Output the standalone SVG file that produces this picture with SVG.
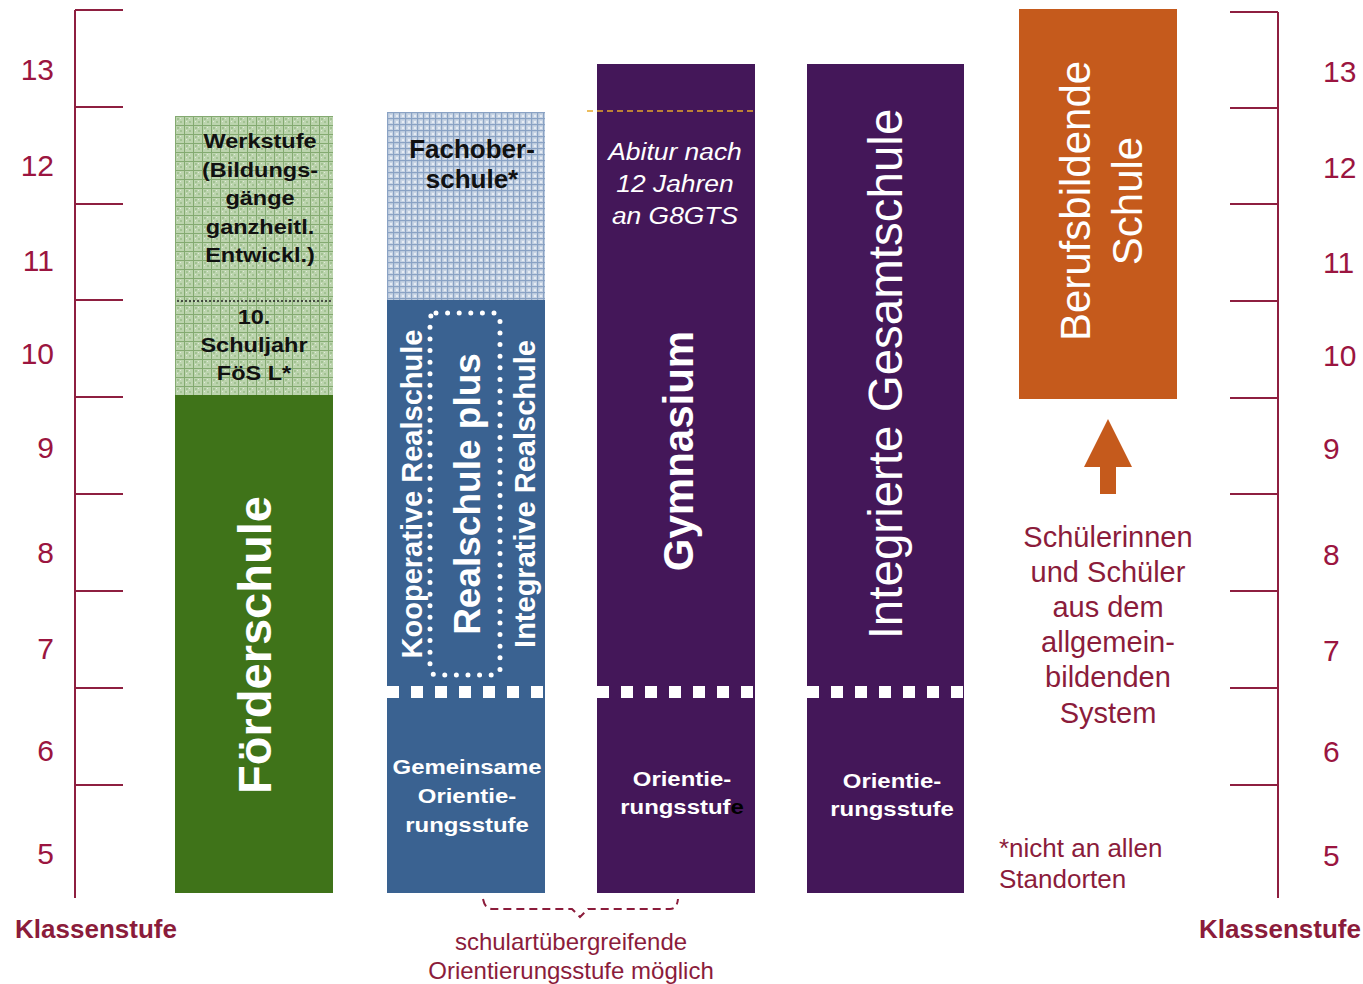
<svg xmlns="http://www.w3.org/2000/svg" width="1363" height="984" viewBox="0 0 1363 984">
<style>
.sc{stroke:#8E1F40;stroke-width:2;fill:none}
.num{font-family:"Liberation Sans",Arial,sans-serif;font-size:30px;fill:#9B1540}
.ks{font-family:"Liberation Sans",Arial,sans-serif;font-size:26px;font-weight:bold;fill:#8B1C3B;text-anchor:middle}
.red{font-family:"Liberation Sans",Arial,sans-serif;fill:#8B1C3B;text-anchor:middle}
.wb{font-family:"Liberation Sans",Arial,sans-serif;font-weight:bold;fill:#fff;text-anchor:middle}
.wr{font-family:"Liberation Sans",Arial,sans-serif;fill:#fff;text-anchor:middle}
.bk{font-family:"Liberation Sans",Arial,sans-serif;font-weight:bold;fill:#111;text-anchor:middle}
.sq{stroke:#fff;stroke-width:12;stroke-dasharray:12 12;fill:none}
</style>
<defs>
<pattern id="pg" width="9" height="9" patternUnits="userSpaceOnUse" x="175" y="116">
<rect width="9" height="9" fill="#BCD4AE"/>
<rect x="2" y="2" width="2" height="2" fill="#A2C292"/>
<rect x="5" y="5" width="2" height="2" fill="#A2C292"/>
<rect x="5" y="2" width="1" height="1" fill="#E0EBD9"/>
<rect x="2" y="5" width="1" height="1" fill="#E0EBD9"/>
<rect width="9" height="1" fill="#84AA71"/>
<rect width="1" height="9" fill="#84AA71"/>
</pattern>
<pattern id="pb" width="6" height="6" patternUnits="userSpaceOnUse" x="387" y="112">
<rect width="6" height="6" fill="#C8D4E4"/>
<rect x="3" y="3" width="2" height="2" fill="#E6ECF4"/>
<rect width="6" height="1.2" fill="#8AA2C4"/>
<rect width="1.2" height="6" fill="#8AA2C4"/>
</pattern>
</defs>

<g id="scale-left">
<path class="sc" d="M75 10V898M75 10H123M75 107H123M75 204H123M75 300H123M75 397H123M75 494H123M75 591H123M75 688H123M75 785H123"/>
<g class="num" text-anchor="end">
<text x="54" y="80">13</text><text x="54" y="176">12</text><text x="54" y="271">11</text><text x="54" y="364">10</text><text x="54" y="458">9</text><text x="54" y="563">8</text><text x="54" y="659">7</text><text x="54" y="761">6</text><text x="54" y="864">5</text>
</g>
<text class="ks" x="96" y="938">Klassenstufe</text>
</g>

<g id="scale-right">
<path class="sc" d="M1278 12V898M1230 12H1278M1230 108H1278M1230 204H1278M1230 301H1278M1230 398H1278M1230 494H1278M1230 591H1278M1230 688H1278M1230 785H1278"/>
<g class="num" text-anchor="start">
<text x="1323" y="82">13</text><text x="1323" y="178">12</text><text x="1323" y="273">11</text><text x="1323" y="366">10</text><text x="1323" y="459">9</text><text x="1323" y="565">8</text><text x="1323" y="661">7</text><text x="1323" y="762">6</text><text x="1323" y="866">5</text>
</g>
<text class="ks" x="1280" y="938">Klassenstufe</text>
</g>

<g id="foerderschule">
<rect x="175" y="116" width="158" height="279" fill="url(#pg)"/>
<rect x="175" y="395" width="158" height="498" fill="#3F7319"/>
<line x1="177" y1="301" x2="331" y2="301" stroke="#222" stroke-width="1.5" stroke-dasharray="2 2"/>
<g transform="translate(260,0) scale(1.12,1)">
<text class="bk" font-size="21" x="0" y="148">Werkstufe</text>
<text class="bk" font-size="21" x="0" y="177">(Bildungs-</text>
<text class="bk" font-size="21" x="0" y="205">gänge</text>
<text class="bk" font-size="21" x="0" y="234">ganzheitl.</text>
<text class="bk" font-size="21" x="0" y="262">Entwickl.)</text>
</g>
<g transform="translate(254,0) scale(1.12,1)">
<text class="bk" font-size="21" x="0" y="324">10.</text>
<text class="bk" font-size="21" x="0" y="352">Schuljahr</text>
<text class="bk" font-size="21" x="0" y="380">FöS L*</text>
</g>
<text class="wb" font-size="47" transform="translate(271,645) rotate(-90)">Förderschule</text>
</g>

<g id="realschule">
<rect x="387" y="112" width="158" height="188" fill="url(#pb)"/>
<rect x="387" y="300" width="158" height="593" fill="#3A6291"/>
<text class="bk" font-size="26" x="472" y="158">Fachober-</text>
<text class="bk" font-size="26" x="472" y="188">schule*</text>
<rect x="430" y="313" width="70" height="362" rx="6" fill="none" stroke="#fff" stroke-width="5" stroke-linecap="round" stroke-dasharray="0 11.6"/>
<text class="wb" font-size="29" transform="translate(422,494) rotate(-90)">Kooperative Realschule</text>
<text class="wb" font-size="37" transform="translate(480,494) rotate(-90)">Realschule plus</text>
<text class="wb" font-size="29" transform="translate(535,494) rotate(-90)">Integrative Realschule</text>
<line class="sq" x1="387" y1="692" x2="545" y2="692"/>
<g transform="translate(467,0) scale(1.14,1)">
<text class="wb" font-size="21" x="0" y="774">Gemeinsame</text>
<text class="wb" font-size="21" x="0" y="803">Orientie-</text>
<text class="wb" font-size="21" x="0" y="832">rungsstufe</text>
</g>
</g>

<g id="gymnasium">
<rect x="597" y="64" width="158" height="829" fill="#441759"/>
<line x1="587" y1="111" x2="757" y2="111" stroke="#E6A82A" stroke-width="1.5" stroke-dasharray="6 4"/>
<g transform="translate(675,0) scale(1.1,1)">
<text class="wr" font-size="24" font-style="italic" x="0" y="160">Abitur nach</text>
<text class="wr" font-size="24" font-style="italic" x="0" y="192">12 Jahren</text>
<text class="wr" font-size="24" font-style="italic" x="0" y="224">an G8GTS</text>
</g>
<text class="wb" font-size="42" transform="translate(693,451) rotate(-90)">Gymnasium</text>
<line class="sq" x1="597" y1="692" x2="755" y2="692"/>
<g transform="translate(682,0) scale(1.14,1)">
<text class="wb" font-size="21" x="0" y="786">Orientie-</text>
<text class="wb" font-size="21" x="0" y="814">rungsstuf<tspan fill="#000">e</tspan></text>
</g>
</g>

<g id="gesamtschule">
<rect x="807" y="64" width="157" height="829" fill="#441759"/>
<text class="wr" font-size="47.5" transform="translate(902,374) rotate(-90)">Integrierte Gesamtschule</text>
<line class="sq" x1="807" y1="692" x2="964" y2="692"/>
<g transform="translate(892,0) scale(1.14,1)">
<text class="wb" font-size="21" x="0" y="788">Orientie-</text>
<text class="wb" font-size="21" x="0" y="816">rungsstufe</text>
</g>
</g>

<g id="berufsbildende">
<rect x="1019" y="9" width="158" height="390" fill="#C55A1C"/>
<text class="wr" font-size="42" transform="translate(1090,201) rotate(-90)">Berufsbildende</text>
<text class="wr" font-size="42" transform="translate(1142,201) rotate(-90)">Schule</text>
</g>

<g id="connectors">
<polygon points="1108,419 1132,467 1116,467 1116,494 1100,494 1100,467 1084,467" fill="#C55A1C"/>
<path d="M483 899Q485 909 492 909H572L580 917L588 909H670Q677 909 678 899" fill="none" stroke="#8B1C3B" stroke-width="2" stroke-dasharray="8 5"/>
</g>

<g id="notes">
<text class="red" font-size="29" x="1108" y="547">Schülerinnen</text>
<text class="red" font-size="29" x="1108" y="582">und Schüler</text>
<text class="red" font-size="29" x="1108" y="617">aus dem</text>
<text class="red" font-size="29" x="1108" y="652">allgemein-</text>
<text class="red" font-size="29" x="1108" y="687">bildenden</text>
<text class="red" font-size="29" x="1108" y="723">System</text>
<text class="red" font-size="26" x="999" y="857" style="text-anchor:start">*nicht an allen</text>
<text class="red" font-size="26" x="999" y="888" style="text-anchor:start">Standorten</text>
<text class="red" font-size="24" x="571" y="950">schulartübergreifende</text>
<text class="red" font-size="24" x="571" y="979">Orientierungsstufe möglich</text>
</g>
</svg>
